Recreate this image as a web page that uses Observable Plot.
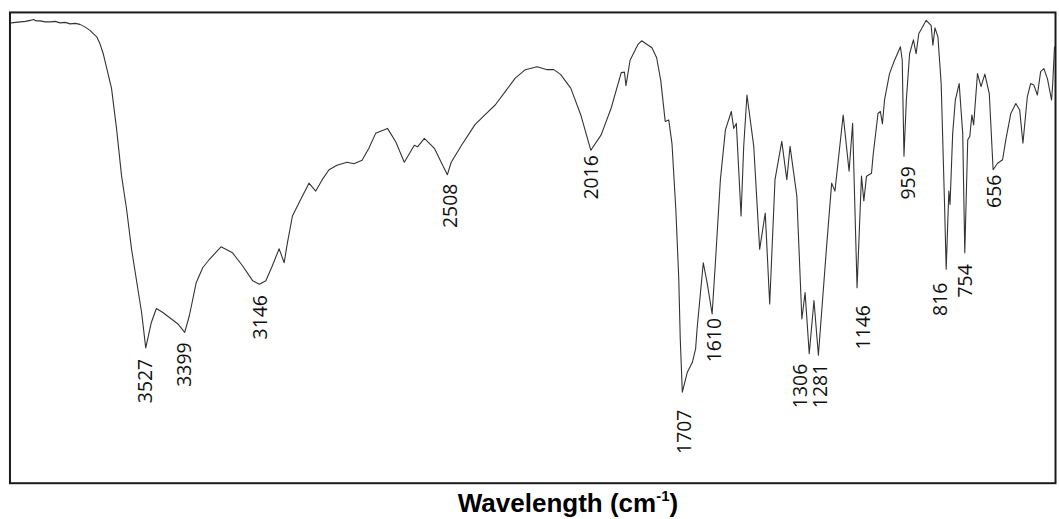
<!DOCTYPE html>
<html><head><meta charset="utf-8">
<script src="https://cdn.jsdelivr.net/npm/d3@7"></script>
<script src="https://cdn.jsdelivr.net/npm/@observablehq/plot@0.6"></script>
<style>
html,body{margin:0;padding:0;background:#fff;overflow:hidden;width:1059px;height:519px;}
#chart{position:relative;width:1059px;height:519px;}
#chart svg{display:block;}
#xlabel{position:absolute;top:488px;left:568px;transform:translateX(-50%);font:bold 26px "Liberation Sans",Arial,sans-serif;line-height:30px;white-space:nowrap;color:#000;}
#xlabel sup{font-size:15px;vertical-align:baseline;position:relative;top:-11px;}
</style></head>
<body><div id="chart"></div>
<script>
const wavenumber = [3982,3952,3935,3918,3907,3898,3885,3868,3851,3834,3817,3800,3783,3766,3750,3733,3716,3693,3682,3671,3654,3643,3626,3609,3592,3575,3541,3527,3508,3491,3469,3440,3418,3395,3379,3356,3334,3311,3272,3233,3199,3165,3142,3120,3098,3075,3058,3047,3030,3008,2974,2951,2929,2906,2879,2845,2822,2794,2771,2748,2708,2680,2651,2634,2617,2606,2583,2549,2526,2505,2492,2457,2412,2378,2343,2309,2275,2241,2201,2167,2144,2121,2087,2053,2019,1984,1950,1916,1905,1900,1886,1859,1847,1812,1796,1782,1767,1755,1744,1731,1721,1716,1709,1692,1675,1664,1659,1638,1625,1608,1597,1580,1563,1543,1535,1526,1510,1501,1490,1467,1447,1428,1413,1395,1372,1355,1344,1321,1304,1293,1279,1263,1248,1220,1203,1192,1164,1144,1132,1117,1102,1094,1085,1068,1063,1046,1038,1031,1024,1007,990,970,964,958,950,939,926,917,908,883,866,860,853,843,832,821,815,806,802,793,784,771,759,752,742,735,728,722,709,697,684,669,656,641,624,613,596,579,566,555,540,529,518,506,495,484,472,458,454,448];
const transmittance = [92.5,92.7,92.8,93.0,93.2,92.9,92.9,92.7,92.7,92.8,92.5,92.6,92.3,92.4,92.2,91.7,91.0,89.7,88.3,86.3,82.1,79.4,71.3,61.8,55.1,47.0,34.3,27.2,32.3,35.1,34.3,33.0,32.0,30.3,33.7,40.3,43.3,45.0,47.5,46.3,43.7,40.7,40.0,40.7,43.7,47.1,44.3,48.3,53.7,56.3,60.3,58.7,61.0,63.0,63.9,64.5,64.2,64.9,67.3,70.3,71.3,68.6,64.5,66.2,67.9,67.6,69.3,67.3,64.5,62.0,64.5,67.9,72.0,74.0,76.0,78.7,81.4,83.1,83.7,83.1,83.1,82.1,79.4,74.0,66.9,70.0,75.4,82.5,82.6,79.9,85.0,88.2,88.9,87.5,85.5,80.9,72.7,73.0,68.2,55.0,41.0,29.0,18.3,22.3,24.3,27.0,31.0,44.3,40.3,34.0,44.3,61.0,71.0,74.7,71.3,72.3,53.7,67.7,78.0,67.7,47.0,54.3,36.0,61.0,68.7,61.0,67.7,57.7,33.0,38.3,26.0,36.7,25.7,47.7,60.3,58.7,74.0,62.7,72.3,39.3,61.7,56.7,61.7,62.3,65.7,74.3,74.7,72.2,77.0,82.3,85.0,87.7,85.0,65.7,77.0,86.3,89.1,86.3,90.3,93.0,92.0,88.0,91.5,89.7,80.3,57.0,43.0,58.7,56.0,70.3,77.0,80.3,70.3,46.3,69.0,69.7,74.0,72.0,82.3,79.7,82.2,78.3,63.0,64.3,65.0,69.0,74.3,76.3,75.0,68.3,77.7,80.3,80.0,78.0,82.7,83.3,81.3,77.0,80.3,87.7];
const peakLabels = ["3527","3399","3146","2508","2016","1707","1610","1306","1281","1146","959","816","754","656"];
const labelWavenumber = [3526,3395,3136,2495,2016,1699,1600,1308,1240,1095,942,832,748,650];
const labelTransmittance = [25,28.3,37.8,60.2,65.9,14.8,33.2,24,24,35.8,63.7,40.3,44,62];

const spectrum = wavenumber.map((w, i) => ({w, t: transmittance[i]}));
const peaks = peakLabels.map((p, i) => ({p, w: labelWavenumber[i], t: labelTransmittance[i]}));

const plot = Plot.plot({
  width: 1064, height: 487,
  marginLeft: 9.5, marginRight: 4, marginTop: 12, marginBottom: 2,
  x: {domain: [3987, 448], range: [9.5, 1059], axis: null},
  y: {domain: [0, 94.6], range: [485, 12], axis: null},
  marks: [
    Plot.frame({stroke: "#1a1a1a", strokeWidth: 2}),
    Plot.line(spectrum, {x: "w", y: "t", stroke: "#333", strokeWidth: 1.1}),
    Plot.text(peaks, {x: "w", y: "t", text: "p", rotate: -90, textAnchor: "end", fontSize: 19.5, fontFamily: "Open Sans", fill: "#111"})
  ]
});
const chart = document.getElementById("chart");
chart.appendChild(plot);
const lab = document.createElement("div");
lab.id = "xlabel";
lab.innerHTML = "Wavelength (cm<sup>-1</sup>)";
chart.appendChild(lab);
</script>
</body></html>
